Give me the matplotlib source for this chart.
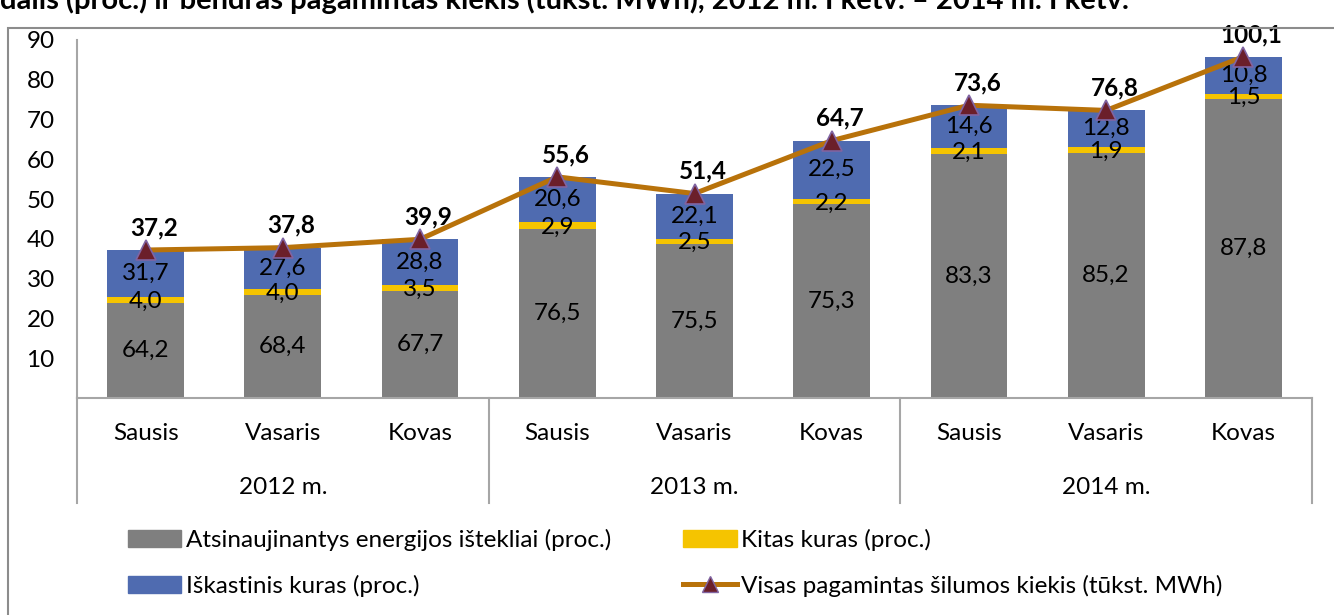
import numpy as np
import matplotlib
matplotlib.use('Agg')
import matplotlib.pyplot as plt
from matplotlib.lines import Line2D
from matplotlib.patches import Patch, Rectangle

plt.rcParams['font.family'] = ['Lato', 'DejaVu Sans']

# duomenys
months = ['Sausis', 'Vasaris', 'Kovas'] * 3
years = ['2012 m.', '2013 m.', '2014 m.']
ren = [64.2, 68.4, 67.7, 76.5, 75.5, 75.3, 83.3, 85.2, 87.8]   # atsinaujinantys (proc.)
other = [4.0, 4.0, 3.5, 2.9, 2.5, 2.2, 2.1, 1.9, 1.5]         # kitas kuras (proc.)
fossil = [31.7, 27.6, 28.8, 20.6, 22.1, 22.5, 14.6, 12.8, 10.8]  # iskastinis (proc.)
total = [37.2, 37.8, 39.9, 55.6, 51.4, 64.7, 73.6, 72.3, 85.8]  # tukst. MWh
total_labels = ['37,2', '37,8', '39,9', '55,6', '51,4', '64,7', '73,6', '76,8', '100,1']
yticks = [10, 20, 30, 40, 50, 60, 70, 80, 90]

c_gray = '#7F7F7F'
c_yel = '#F5C400'
c_blue = '#4F6BB0'
c_line = '#B8720A'
fs = 17.5

ren = np.array(ren); other = np.array(other); fossil = np.array(fossil); total = np.array(total)
s = ren + other + fossil
h_ren = ren / s * total
h_oth = other / s * total
h_fos = fossil / s * total

W, H = 1334, 615
fig = plt.figure(figsize=(W / 100, H / 100), dpi=100)
ax = fig.add_axes([77 / W, 1 - 398 / H, (1312 - 77) / W, 358 / H])

x = np.arange(len(months))
bw = 0.56
ax.bar(x, h_ren, bw, color=c_gray)
ax.bar(x, h_oth, bw, bottom=h_ren, color=c_yel)
ax.bar(x, h_fos, bw, bottom=h_ren + h_oth, color=c_blue)

# reiksmes segmentuose
for i in range(len(x)):
    ax.text(x[i], h_ren[i] / 2, f'{ren[i]:.1f}'.replace('.', ','), ha='center', va='center', fontsize=fs)
    ax.text(x[i], h_ren[i] + h_oth[i] / 2 - 0.4, f'{other[i]:.1f}'.replace('.', ','), ha='center', va='center', fontsize=fs)
    ax.text(x[i], h_ren[i] + h_oth[i] + h_fos[i] / 2, f'{fossil[i]:.1f}'.replace('.', ','), ha='center', va='center', fontsize=fs)

ax.plot(x, total, color=c_line, lw=3.6, marker='^', ms=14, mfc='#6B1F2A', mec='#8064A2', mew=1.2, zorder=5)
for i in range(len(x)):
    ax.annotate(total_labels[i], (x[i], total[i]), xytext=(6, 16), textcoords='offset points',
                ha='center', va='center', fontsize=fs, fontweight='bold')

ax.set_xlim(-0.5, len(x) - 0.5)
ax.set_ylim(0, 90)
ax.set_yticks(yticks)
ax.set_yticklabels([str(v) for v in yticks], fontsize=fs)
ax.tick_params(axis='y', length=0, pad=16)
ax.set_xticks([])
for sp in ['top', 'right']:
    ax.spines[sp].set_visible(False)
ax.spines['left'].set_color('#A6A6A6')
ax.spines['bottom'].set_color('#A6A6A6')
ax.spines['left'].set_linewidth(1.5)
ax.spines['bottom'].set_linewidth(1.5)

# kategoriju asis
tr = ax.get_xaxis_transform()
for i, m in enumerate(months):
    ax.text(x[i], -35 / 358, m, transform=tr, ha='center', va='center', fontsize=fs)
for j, yr in enumerate(years):
    ax.text(3 * j + 1, -90 / 358, yr, transform=tr, ha='center', va='center', fontsize=fs)
for b in [-0.5, 2.5, 5.5, 8.5]:
    ax.plot([b, b], [0, -105 / 358], transform=tr, color='#A6A6A6', lw=1.5, clip_on=False)

# legenda
handles = [Patch(color=c_gray), Patch(color=c_blue), Patch(color=c_yel),
           Line2D([], [], color=c_line, lw=3.6, marker='^', ms=12, mfc='#6B1F2A', mec='#8064A2')]
labels = ['Atsinaujinantys energijos ištekliai (proc.)', 'Iškastinis kuras (proc.)',
          'Kitas kuras (proc.)', 'Visas pagamintas šilumos kiekis (tūkst. MWh)']
fig.legend(handles, labels, ncol=2, loc='center left', bbox_to_anchor=(106 / W, 1 - 563 / H),
           frameon=False, fontsize=fs, handlelength=2.2, handletextpad=0.2,
           columnspacing=2.95, labelspacing=0.95)

# remelis ir nukirptas pavadinimas
fig.patches.append(Rectangle((8 / W, -0.1), 1.2, 1.1 - 28 / H, transform=fig.transFigure,
                             fill=False, edgecolor='#8C8C8C', lw=1.5))
fig.text(0.0, 1 - 9 / H, 'dalis (proc.) ir bendras pagamintas kiekis (tūkst. MWh), 2012 m. I ketv. – 2014 m. I ketv.',
         ha='left', va='baseline', fontsize=21, fontweight='bold')

fig.savefig('out.png', dpi=100, facecolor='white')
